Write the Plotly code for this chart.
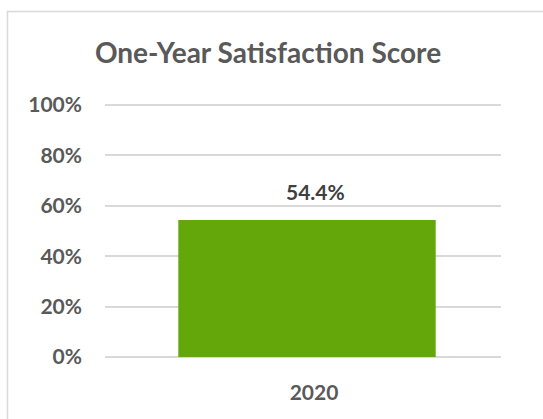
import plotly.graph_objects as go

categories = ["2020"]
values = [0.544]
tick_vals = [0, 0.2, 0.4, 0.6, 0.8, 1.0]
tick_text = ["0%", "20%", "40%", "60%", "80%", "100%"]
title_text = "One-Year Satisfaction Score"

W, H = 543, 419
L, R, T, B = 105, 42, 104, 62
pw, ph = W - L - R, H - T - B

def px_x(p):
    return (p - L) / pw

def px_y(p):
    return (H - B - p) / ph

FONT = "Lato, Open Sans, sans-serif"

fig = go.Figure(go.Bar(
    x=categories, y=values, width=0.65,
    marker=dict(color="#63A70A", line=dict(width=0)),
    hoverinfo="skip",
))

for i, v in enumerate(values):
    fig.add_annotation(x=i, y=v, text="<b>%.1f%%</b>" % (v * 100), showarrow=False,
                       xanchor="center", yanchor="bottom", xshift=8, yshift=14,
                       font=dict(family=FONT, size=21, color="#404040"))

fig.update_layout(
    width=W, height=H,
    margin=dict(l=L, r=R, t=T, b=B, autoexpand=False),
    paper_bgcolor="white", plot_bgcolor="white",
    font=dict(family=FONT, color="#595959"),
    title=dict(text="<b>" + title_text + "</b>", x=268 / W, xref="container", xanchor="center",
               y=1 - 53 / H, yref="container", yanchor="middle",
               font=dict(size=28, color="#595959")),
    showlegend=False,
)
fig.update_yaxes(range=[0, 1.004], tickvals=tick_vals, ticktext=["<b>%s</b>" % t for t in tick_text],
                 showgrid=True, gridcolor="#d9d9d9", gridwidth=1.5,
                 zeroline=True, zerolinecolor="#d9d9d9", zerolinewidth=1.5,
                 showline=False, ticks="", ticklabelstandoff=22, automargin=False,
                 tickfont=dict(size=21, color="#595959"))
fig.update_xaxes(type="category", range=[-0.5101, len(categories) - 0.5101],
                 tickvals=categories, ticktext=["<b>%s</b>" % c for c in categories],
                 showline=False, showgrid=False, zeroline=False, ticks="", automargin=False,
                 ticklabelstandoff=21, ticklabelshift=7,
                 tickfont=dict(size=21, color="#595959"))

fig.add_shape(type="rect", xref="paper", yref="paper",
              x0=px_x(7.5), x1=px_x(560), y0=px_y(440), y1=px_y(11.5),
              line=dict(color="#d9d9d9", width=1.5), fillcolor="rgba(0,0,0,0)", layer="below")

fig.write_html("out.html", config={"displayModeBar": False},
               post_script="document.body.style.margin='0';document.body.style.overflow='hidden';")
